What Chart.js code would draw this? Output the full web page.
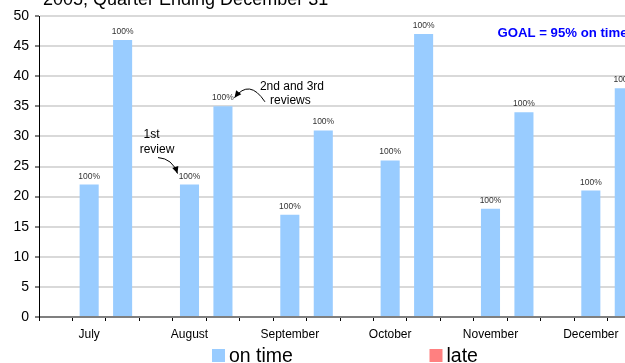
<!DOCTYPE html>
<html>
<head>
<meta charset="utf-8">
<script src="https://cdn.jsdelivr.net/npm/chart.js@4.4.1/dist/chart.umd.min.js"></script>
<style>
  html, body { margin: 0; padding: 0; background: #fff; overflow: hidden; width: 625px; height: 363px; }
  canvas { display: block; }
</style>
</head>
<body>
<canvas id="c" width="680" height="363"></canvas>
<script>
// Reviews completed per month, first review vs. second and third reviews
const months = ['July', 'August', 'September', 'October', 'November', 'December'];
const firstReviewOnTime = [22, 22, 17, 26, 18, 21];
const laterReviewsOnTime = [46, 35, 31, 47, 34, 38];
const firstReviewLate = [0, 0, 0, 0, 0, 0];
const laterReviewsLate = [0, 0, 0, 0, 0, 0];
const seriesNames = ['on time', 'late'];
const yMin = 0, yMax = 50, yStep = 5;

const FONT = "'Liberation Sans', Arial, Helvetica, sans-serif";

// Each month takes three slots: a spacer, the 1st review bar and the 2nd/3rd review bar
const slotLabels = [], onTime = [], late = [];
months.forEach((m, i) => {
  slotLabels.push('', m, '');
  onTime.push(null, firstReviewOnTime[i], laterReviewsOnTime[i]);
  late.push(null, firstReviewLate[i], laterReviewsLate[i]);
});

const colors = ['#99CCFF', '#FF8080'];

// Percentage of reviews done on time, written above each bar
const percentLabels = {
  id: 'percentLabels',
  afterDatasetsDraw(chart) {
    const ctx = chart.ctx;
    const meta = chart.getDatasetMeta(0);
    ctx.save();
    ctx.font = '8.5px ' + FONT;
    ctx.fillStyle = '#333';
    ctx.textAlign = 'center';
    ctx.textBaseline = 'alphabetic';
    meta.data.forEach((el, i) => {
      const on = onTime[i];
      if (on == null) return;
      const total = on + (late[i] || 0);
      const pct = Math.round(100 * on / total) + '%';
      const topY = chart.scales.y.getPixelForValue(total);
      ctx.fillText(pct, el.x, topY - 6);
    });
    ctx.restore();
  }
};

function arrow(ctx, x0, y0, cx, cy, x1, y1) {
  ctx.beginPath();
  ctx.moveTo(x0, y0);
  ctx.quadraticCurveTo(cx, cy, x1, y1);
  ctx.stroke();
  const a = Math.atan2(y1 - cy, x1 - cx);
  const len = 7, w = 3.2;
  ctx.beginPath();
  ctx.moveTo(x1, y1);
  ctx.lineTo(x1 - len * Math.cos(a) + w * Math.sin(a), y1 - len * Math.sin(a) - w * Math.cos(a));
  ctx.lineTo(x1 - len * Math.cos(a) - w * Math.sin(a), y1 - len * Math.sin(a) + w * Math.cos(a));
  ctx.closePath();
  ctx.fill();
}

// Title, goal note, callouts and legend
const decorations = {
  id: 'decorations',
  afterDraw(chart) {
    const ctx = chart.ctx;
    ctx.save();
    // title (upper part runs off the top)
    ctx.fillStyle = '#000';
    ctx.font = '18px ' + FONT;
    ctx.textAlign = 'left';
    ctx.textBaseline = 'alphabetic';
    ctx.fillText('2005, Quarter Ending December 31', 43, 4.5);

    // goal note
    ctx.fillStyle = '#0000FF';
    ctx.font = 'bold 13.2px ' + FONT;
    ctx.fillText('GOAL = 95% on time', 497.5, 37);

    // callouts anchored to the August bars
    const meta = chart.getDatasetMeta(0);
    const b1 = meta.data[4], b2 = meta.data[5];
    ctx.fillStyle = '#000';
    ctx.strokeStyle = '#000';
    ctx.lineWidth = 1;
    ctx.font = '12px ' + FONT;
    ctx.textAlign = 'center';
    ctx.fillText('1st', b1.x - 38, b1.y - 47);
    ctx.fillText('review', b1.x - 32.5, b1.y - 31.5);
    arrow(ctx, b1.x - 31.5, b1.y - 27, b1.x - 17, b1.y - 26, b1.x - 12, b1.y - 11);

    ctx.fillText('2nd and 3rd', b2.x + 69, b2.y - 16);
    ctx.fillText('reviews', b2.x + 67.5, b2.y - 2);
    arrow(ctx, b2.x + 42, b2.y - 4.5, b2.x + 26.5, b2.y - 28, b2.x + 11.5, b2.y - 8.5);

    // legend
    ctx.textAlign = 'left';
    ctx.font = '19.5px ' + FONT;
    const legendX = [212, 429.5];
    chart.data.datasets.forEach((ds, i) => {
      ctx.fillStyle = ds.backgroundColor;
      ctx.fillRect(legendX[i], 349, 13, 13);
      ctx.fillStyle = '#000';
      ctx.fillText(ds.label, legendX[i] + 17, 361.5);
    });
    ctx.restore();
  }
};

new Chart(document.getElementById('c'), {
  type: 'bar',
  data: {
    labels: slotLabels,
    datasets: [
      { label: seriesNames[0], data: onTime, backgroundColor: colors[0], borderWidth: 0 },
      { label: seriesNames[1], data: late, backgroundColor: colors[1], borderWidth: 0 }
    ]
  },
  options: {
    responsive: false,
    animation: false,
    devicePixelRatio: 1,
    layout: { padding: { top: 16, right: 39, left: 0, bottom: 0 } },
    datasets: { bar: { barPercentage: 0.57, categoryPercentage: 1 } },
    plugins: {
      legend: { display: false },
      title: { display: false },
      tooltip: { enabled: false }
    },
    scales: {
      x: {
        stacked: true,
        offset: true,
        grid: { offset: true, drawOnChartArea: false, color: '#000', lineWidth: 1, tickLength: 4 },
        border: { color: '#7f7f7f', width: 2 },
        ticks: {
          autoSkip: false, maxRotation: 0, minRotation: 0, padding: 6,
          color: '#000', font: { family: FONT, size: 12 }
        },
        afterFit(scale) { scale.height = 46; }
      },
      y: {
        stacked: true,
        min: yMin, max: yMax,
        grid: { color: '#d9d9d9', lineWidth: 2, tickColor: '#000', tickWidth: 1, tickLength: 4 },
        border: { color: '#000', width: 1 },
        ticks: {
          stepSize: yStep, padding: 6,
          color: '#000', font: { family: FONT, size: 14 }
        },
        afterFit(scale) { scale.width = 39; }
      }
    }
  },
  plugins: [percentLabels, decorations]
});
</script>
</body>
</html>
